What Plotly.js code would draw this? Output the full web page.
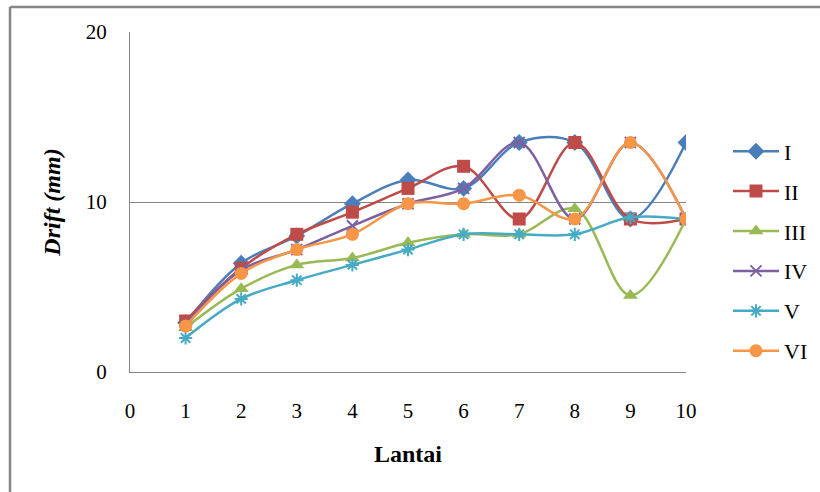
<!DOCTYPE html>
<html>
<head>
<meta charset="utf-8">
<script src="https://cdn.plot.ly/plotly-3.0.1.min.js"></script>
<style>html,body{margin:0;padding:0;background:#fff;}#chart{width:820px;height:492px;}</style>
</head>
<body>
<div id="chart"></div>
<script>
var lantai = [1, 2, 3, 4, 5, 6, 7, 8, 9, 10];
var seriesNames = ["I", "II", "III", "IV", "V", "VI"];
var driftI   = [2.9, 6.4, 8.0, 9.9, 11.3, 10.8, 13.5, 13.5, 9.0, 13.5];
var driftII  = [3.0, 6.1, 8.1, 9.4, 10.8, 12.1, 9.0, 13.5, 9.0, 9.0];
var driftIII = [2.6, 4.9, 6.3, 6.7, 7.6, 8.1, 8.1, 9.6, 4.5, 9.0];
var driftIV  = [2.8, 6.0, 7.2, 8.6, 9.9, 10.8, 13.5, 9.0, 13.5, 9.0];
var driftV   = [2.0, 4.3, 5.4, 6.3, 7.2, 8.1, 8.1, 8.1, 9.1, 9.0];
var driftVI  = [2.7, 5.8, 7.2, 8.1, 9.9, 9.9, 10.4, 9.0, 13.5, 9.0];
var xTicks = [0, 1, 2, 3, 4, 5, 6, 7, 8, 9, 10];
var yTicks = [0, 10, 20];

var allData = [driftI, driftII, driftIII, driftIV, driftV, driftVI];
var colors = ["#4A7EBB", "#BE4B48", "#98B954", "#7D60A0", "#46AAC5", "#F79646"];
var symbols = ["diamond", "square", "triangle-up", "x-thin-open", "asterisk-open", "circle"];
var sizes = [13, 13, 13, 11, 11, 13];

var traces = allData.map(function (d, i) {
  var open = symbols[i].indexOf("open") >= 0;
  return {
    x: lantai, y: d, name: seriesNames[i], type: "scatter", mode: "lines+markers",
    legendgroup: "g" + i,
    line: {color: colors[i], width: 2.5, shape: "spline", smoothing: 1},
    marker: {symbol: symbols[i], size: sizes[i], color: colors[i],
             line: {color: colors[i], width: open ? 2 : 0}}
  };
});

var grey = "#868686";
var layout = {
  width: 820, height: 492,
  margin: {l: 130, r: 134, t: 32, b: 120, autoexpand: false},
  paper_bgcolor: "#fff", plot_bgcolor: "#fff",
  font: {family: "Liberation Serif, Times New Roman, serif", size: 21, color: "#000"},
  showlegend: true,
  legend: {xref: "container", yref: "container", x: 0.8878, y: 0.735,
           xanchor: "left", yanchor: "top", tracegroupgap: 8.3,
           itemwidth: 46,
           font: {size: 22, family: "Liberation Serif, serif"}, bgcolor: "rgba(0,0,0,0)"},
  xaxis: {range: [0, 10], tickvals: xTicks, ticktext: xTicks.map(String),
          showgrid: false, zeroline: false, showline: true, linecolor: grey, linewidth: 1,
          ticks: "", ticklabelstandoff: 20, tickfont: {size: 21},
          title: {text: "<b>Lantai</b>", font: {size: 24}, standoff: 22}},
  yaxis: {range: [0, 20], tickvals: yTicks, ticktext: yTicks.map(String),
          showgrid: true, gridcolor: grey, gridwidth: 1, zeroline: false,
          showline: true, linecolor: grey, linewidth: 1, ticks: "", ticklabelstandoff: 18,
          tickfont: {size: 21},
          title: {text: "<b><i>Drift (mm)</i></b>", font: {size: 24}, standoff: 18}},
  shapes: [
    {type: "line", xref: "paper", yref: "paper", x0: -0.2158, x1: 1.3, y0: 1.0735, y1: 1.0735,
     line: {color: grey, width: 2.5}},
    {type: "line", xref: "paper", yref: "paper", x0: -0.2158, x1: -0.2158, y0: 1.0735, y1: -0.4,
     line: {color: grey, width: 2.5}}
  ]
};

Plotly.newPlot("chart", traces, layout, {displayModeBar: false, staticPlot: true});
</script>
</body>
</html>
